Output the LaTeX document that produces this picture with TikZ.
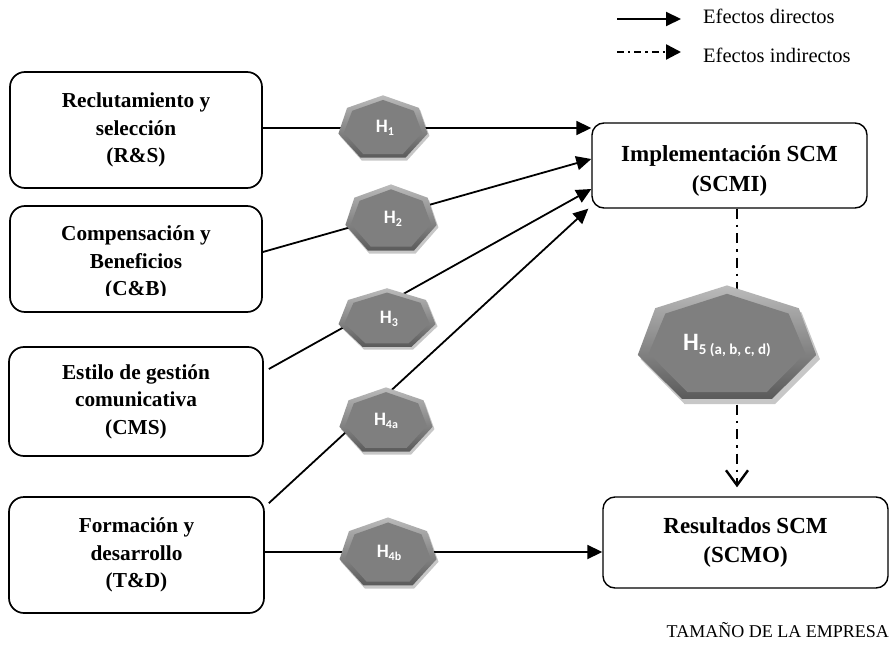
\documentclass[tikz,border=0pt]{standalone}
\usepackage{fontspec}
\setmainfont{Liberation Serif}
\newfontfamily\hfont{Carlito}
\usetikzlibrary{arrows.meta,calc}
\definecolor{hexface}{HTML}{7F7F7F}
\definecolor{hexlight}{HTML}{BBBBBB}
\definecolor{hexdark}{HTML}{5A5A5A}
\newcommand{\hsub}[1]{\raisebox{-3.5pt}{\fontsize{12}{12}\selectfont #1}}
% heptagon body: centre x, centre y, half width, half height
\newcommand{\heptbody}[4]{%
  \begin{scope}[shift={(#1,#2)}, x=#3pt, y=#4pt]
    \fill[black, opacity=0.22] (0.03,0.89) -- (-0.75,0.51) -- (-0.94,-0.27) -- (-0.46,-1.02) -- (0.52,-1.02) -- (1.01,-0.27) -- (0.81,0.51) -- cycle;
    \shade[top color=hexlight, bottom color=hexdark] (0,0.96) -- (-0.78,0.58) -- (-0.97,-0.2) -- (-0.49,-0.93) -- (0.49,-0.93) -- (0.97,-0.2) -- (0.78,0.58) -- cycle;
    \fill[hexface] (0,0.82) -- (-0.67,0.49) -- (-0.85,-0.17) -- (-0.43,-0.82) -- (0.43,-0.82) -- (0.85,-0.17) -- (0.67,0.49) -- cycle;
  \end{scope}}
\begin{document}
\begin{tikzpicture}[x=1pt,y=-1pt,
  box/.style={draw, line width=1.7pt, rounded corners=15pt, fill=white, align=center,
    font=\bfseries\fontsize{21.3}{27.5}\selectfont, inner sep=0pt},
  rbox/.style={draw, line width=1.4pt, rounded corners=12pt, fill=white, align=center,
    font=\bfseries\fontsize{23}{29}\selectfont, inner sep=0pt},
  boxtext/.style={align=center, font=\bfseries\fontsize{21.3}{27.5}\selectfont, inner sep=0pt},
  rtext/.style={align=center, font=\bfseries\fontsize{23}{30}\selectfont, inner sep=0pt},
  legtext/.style={font=\fontsize{20.5}{22}\selectfont, inner sep=0pt},
  htext/.style={text=white, inner sep=0pt, font=\hfont\bfseries\fontsize{19}{20}\selectfont},
  conn/.style={line width=1.8pt},
  arr/.style={conn, -{Triangle[length=15pt,width=14pt]}},
  dashdot/.style={line width=2.8pt, dash pattern=on 10pt off 6pt on 2.5pt off 6pt,
    -{Straight Barb[length=15pt,width=22pt,line width=2.4pt]}},
  legdash/.style={line width=2.4pt, dash pattern=on 7pt off 4pt on 2.4pt off 4pt,
    -{Triangle[length=15pt,width=15pt]}}]
\fill[white] (0,0) rectangle (893,652);
\useasboundingbox (0,0) rectangle (893,652);

% left boxes
\node[box, minimum width=252, minimum height=116] (RS) at (136,130) {Reclutamiento y\\selección\\(R\&S)};
\node[box, minimum width=252, minimum height=106] (CB) at (136,259) {};
\begin{scope}
  \clip (0,0) rectangle (893,295);
  \node[boxtext] (CBt) at (136,263) {Compensación y\\Beneficios\\(C\&B)};
\end{scope}
\node[box, minimum width=254, minimum height=109] (CMS) at (136,401.5) {Estilo de gestión\\comunicativa\\(CMS)};
\node[box, minimum width=255, minimum height=116] (TD) at (136.5,555) {Formación y\\desarrollo\\(T\&D)};

% right boxes
\node[rbox, minimum width=275, minimum height=85] (SCMI) at (729.5,165.5) {};
\node[rtext] (SCMIt) at (729.5,171) {Implementación SCM\\(SCMI)};
\node[rbox, minimum width=285, minimum height=91] (SCMO) at (745.5,542.5) {Resultados SCM\\(SCMO)};

% connectors
\coordinate (s1) at ([yshift=2pt]RS.east);
\coordinate (s2) at ([yshift=7pt]CB.east);
\coordinate (e2) at ([yshift=6.5pt]SCMI.west);
\coordinate (s3) at ([xshift=5pt,yshift=32.5pt]CMS.east);
\coordinate (e3) at ([yshift=-23.5pt]SCMI.west);
\coordinate (s4) at ([xshift=4pt,yshift=-7pt]TD.north east);
\coordinate (e4) at ([xshift=-3pt]SCMI.south west);
\coordinate (s5) at ([yshift=3pt]TD.east);
\coordinate (d0) at ([xshift=7.5pt]SCMI.south);
\coordinate (d1) at ([yshift=9pt]d0 |- SCMO.north);
\draw[arr] (s1) -- (s1 -| SCMI.west);
\draw[arr] (s2) -- (e2);
\draw[arr] (s3) -- (e3);
\draw[arr] (s4) -- (e4);
\draw[arr] (s5) -- (s5 -| SCMO.west);
\draw[dashdot] (d0) -- (d1);

% heptagons
\heptbody{383}{127}{46}{33}
\node[htext] (H1) at (385,128) {H\hsub{1}};
\heptbody{391}{218}{47}{35}
\node[htext] (H2) at (393,219) {H\hsub{2}};
\heptbody{387}{318}{50}{31}
\node[htext] (H3) at (389,319) {H\hsub{3}};
\heptbody{386}{420}{48}{34}
\node[htext] (H4a) at (386,421) {H\hsub{4a}};
\heptbody{388}{552}{50}{36}
\node[htext] (H4b) at (389,553) {H\hsub{4b}};
\heptbody{727}{343}{92}{60}
\node[htext, font=\hfont\bfseries\fontsize{25}{26}\selectfont] (H5) at (727,346)
  {H\raisebox{-4pt}{\fontsize{15}{15}\selectfont 5 (a, b, c, d)}};

% legend
\coordinate (L1a) at (617,19);
\coordinate (L1b) at (681,19);
\coordinate (L2a) at (617,52);
\coordinate (L2b) at (681,52);
\draw[arr, line width=2pt] (L1a) -- (L1b);
\draw[legdash] (L2a) -- (L2b);
\node[legtext, anchor=west] (LT1) at (703,16) {Efectos directos};
\node[legtext, anchor=west] (LT2) at (703,55) {Efectos indirectos};

% bottom label
\node[font=\fontsize{18}{20}\selectfont, inner sep=0pt, anchor=east] (TAM) at (889,630) {TAMAÑO DE LA EMPRESA};
\end{tikzpicture}
\end{document}
